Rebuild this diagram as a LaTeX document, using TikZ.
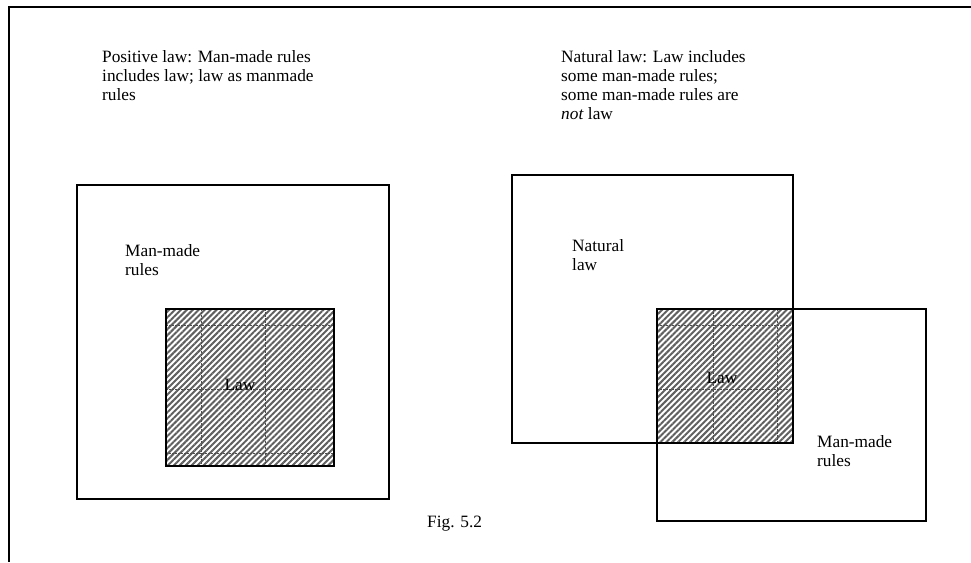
\documentclass[tikz,border=0pt]{standalone}
\usepackage{fontspec}
\setmainfont{Liberation Serif}
\usetikzlibrary{patterns.meta}
\begin{document}
\begin{tikzpicture}[x=1pt,y=-1pt,
  frameline/.style={line width=1.6pt},
  region/.style={draw, line width=1.1pt},
  hatched/.style={pattern={Lines[angle=45,distance=4.2pt,line width=2pt]},
                  pattern color=gray!75!black},
  seam/.style={line width=0.5pt, black!70, dash pattern=on 1.5pt off 1.5pt},
  label/.style={anchor=north west, align=left, inner sep=0pt,
                font=\fontsize{17.3}{19}\selectfont},
  lawtext/.style={anchor=base, inner sep=0pt, font=\fontsize{17.3}{19}\selectfont}]
\useasboundingbox (0,0) rectangle (971,562);

% page frame: top and left rules only
\draw[frameline] (971,7) -- (9,7) -- (9,562);

% positive law: law sits inside man-made rules
\fill[hatched] (166,309) rectangle (334,466);
\begin{scope}
  \clip (166,309) rectangle (334,466);
  \foreach \gx in {201,265} \draw[seam] (\gx,309) -- (\gx,466);
  \foreach \gy in {325,389,453} \draw[seam] (166,\gy) -- (334,\gy);
\end{scope}
\draw[region] (166,309) rectangle (334,466);
\draw[region] (77,185) rectangle (389,499);

% natural law: law is the overlap of the two sets
\fill[hatched] (657,309) rectangle (793,443);
\begin{scope}
  \clip (657,309) rectangle (793,443);
  \foreach \gx in {713,777} \draw[seam] (\gx,309) -- (\gx,443);
  \foreach \gy in {325,389} \draw[seam] (657,\gy) -- (793,\gy);
\end{scope}
\draw[region] (657,309) rectangle (793,443);
\draw[region] (512,175) rectangle (793,443);
\draw[region] (657,309) rectangle (926,521);

% captions (north west corner placed so the first baseline lands where wanted)
\node[label] (posCap) at (102,50.5) {Positive law: Man-made rules\\includes law; law as manmade\\rules};
\node[label] (natCap) at (561,50.5) {Natural law: Law includes\\some man-made rules;\\some man-made rules are\\\textit{not} law};

% set names
\node[label] (mmLeft) at (125,244.5) {Man-made\\rules};
\node[label] (natLeft) at (572,239.5) {Natural\\law};
\node[label] (mmRight) at (817,435.5) {Man-made\\rules};
\node[lawtext] (lawLeft) at (240,390) {Law};
\node[lawtext] (lawRight) at (722,383) {Law};

\node[lawtext, anchor=base west] (fig) at (427,527) {Fig. 5.2};
\end{tikzpicture}
\end{document}
